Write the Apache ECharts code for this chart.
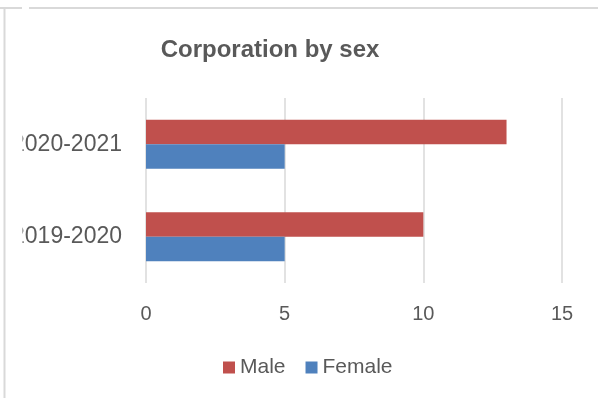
<!DOCTYPE html>
<html>
<head>
<meta charset="utf-8">
<script src="https://cdn.jsdelivr.net/npm/echarts@6/dist/echarts.min.js"></script>
<style>html,body{margin:0;padding:0;background:#fff}#c{width:598px;height:398px}</style>
</head>
<body>
<div id="c"></div>
<script>
const categories = ['2019-2020', '2020-2021'];
const maleValues = [10, 13];
const femaleValues = [5, 5];
const seriesNames = ['Male', 'Female'];
const titleText = 'Corporation by sex';

const chart = echarts.init(document.getElementById('c'));
const textColor = '#595959';
const font = '"Liberation Sans", Arial, sans-serif';
chart.setOption({
  animation: false,
  backgroundColor: '#fff',
  title: {
    text: titleText,
    left: 265, top: 33,
    textAlign: 'center',
    textStyle: { fontFamily: font, fontSize: 24, fontWeight: 'bold', color: textColor }
  },
  legend: {
    data: seriesNames,
    left: 223, top: 357, padding: 0,
    itemWidth: 12, itemHeight: 12, itemGap: 20,
    icon: 'rect',
    textStyle: { fontFamily: font, fontSize: 21, color: textColor }
  },
  grid: { left: 146, right: 36, top: 98, bottom: 115 },
  xAxis: {
    type: 'value', min: 0, max: 15, interval: 5,
    axisLine: { show: false }, axisTick: { show: false },
    splitLine: { show: true, lineStyle: { color: '#D9D9D9', width: 1.5 } },
    axisLabel: { margin: 21, fontFamily: font, fontSize: 20, color: textColor }
  },
  yAxis: {
    type: 'category', data: categories,
    axisLine: { show: false }, axisTick: { show: false },
    axisLabel: { margin: 24, fontFamily: font, fontSize: 23, color: textColor }
  },
  series: [
    { name: 'Male', type: 'bar', data: maleValues, itemStyle: { color: '#C0504D' }, barGap: '0%', barCategoryGap: '47%' },
    { name: 'Female', type: 'bar', data: femaleValues, itemStyle: { color: '#4F81BD' }, barGap: '0%', barCategoryGap: '47%' }
  ],
  graphic: [
    { type: 'rect', shape: { x: 6, y: 100, width: 16.5, height: 180 }, style: { fill: '#fff' }, z: 100 },
    { type: 'line', shape: { x1: 0, y1: 8, x2: 22, y2: 8 }, style: { stroke: '#D9D9D9', lineWidth: 2 }, z: 101 },
    { type: 'line', shape: { x1: 29, y1: 8, x2: 598, y2: 8 }, style: { stroke: '#D9D9D9', lineWidth: 2 }, z: 101 },
    { type: 'line', shape: { x1: 4.5, y1: 8, x2: 4.5, y2: 398 }, style: { stroke: '#D9D9D9', lineWidth: 2 }, z: 101 }
  ]
});
</script>
</body>
</html>
